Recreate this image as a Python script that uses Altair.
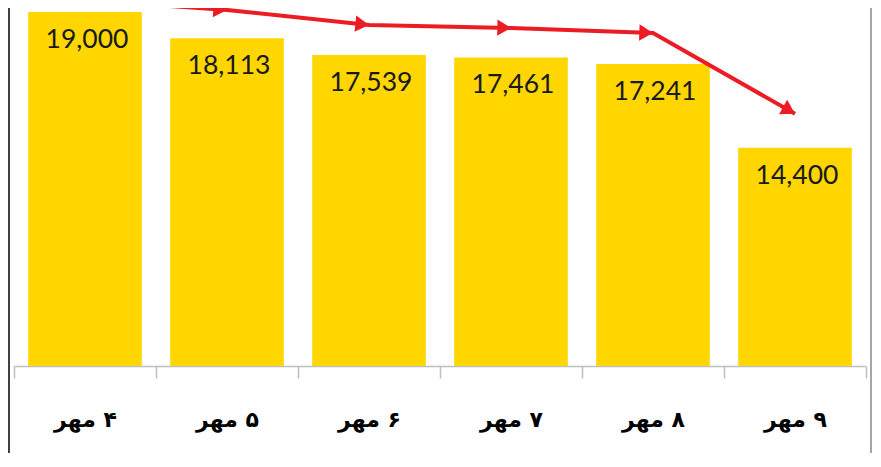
import math
import altair as alt
import pandas as pd

# ---- data ----
days = ["\u200f۴ مهر", "\u200f۵ مهر", "\u200f۶ مهر", "\u200f۷ مهر", "\u200f۸ مهر", "\u200f۹ مهر"]
values = [19000, 18113, 17539, 17461, 17241, 14400]
labels = ["19,000", "18,113", "17,539", "17,461", "17,241", "14,400"]
trend = [19400, 19070, 18560, 18460, 18290, 15550]

# ---- layout ----
PLOT_W, PLOT_H = 852, 358
Y_MIN, Y_MAX = 7000, 19136
k = PLOT_H / (Y_MAX - Y_MIN)
step = PLOT_W / len(days)

angles = [0.0]
for i in range(1, len(trend)):
    dy = (trend[i - 1] - trend[i]) * k
    angles.append(math.degrees(math.atan2(dy, step)) % 360)

df = pd.DataFrame({"day": days, "value": values, "label": labels,
                   "trend": trend, "angle": angles})
df_arrows = df.iloc[1:]

BAR = "#FFD600"
RED = "#EC1C24"

x_enc = alt.X("day:N", sort=None,
              scale=alt.Scale(paddingInner=0, paddingOuter=0),
              axis=alt.Axis(title=None, labelAngle=0, labelFont="DejaVu Sans",
                            labelFontWeight="bold", labelFontSize=22,
                            labelColor="#000000", labelPadding=31,
                            tickBand="extent", tickSize=12, tickColor="#BFBFBF",
                            domainColor="#BFBFBF", domainWidth=1.5, tickWidth=1.5))
y_scale = alt.Scale(domain=[Y_MIN, Y_MAX], zero=False, nice=False)

base = alt.Chart(df)

bars = base.mark_bar(color=BAR, width=alt.RelativeBandSize(0.8)).encode(
    x=x_enc,
    y=alt.Y("value:Q", scale=y_scale, axis=None),
    y2=alt.datum(Y_MIN),
)

texts = base.mark_text(font="Lato", fontSize=26.5, color="#1A1A1A",
                       baseline="middle", dy=28, dx=2).encode(
    x=alt.X("day:N", sort=None),
    y=alt.Y("value:Q"),
    text="label:N",
)

line = base.mark_line(color=RED, strokeWidth=4).encode(
    x=alt.X("day:N", sort=None),
    y=alt.Y("trend:Q"),
)

arrows = alt.Chart(df_arrows).mark_point(
    shape="M0,0L-1,-0.6L-1,0.6Z", filled=True, color=RED, opacity=1,
    size=750).encode(
    x=alt.X("day:N", sort=None),
    y=alt.Y("trend:Q"),
    angle=alt.Angle("angle:Q", scale=None),
)

left_border = alt.Chart(df).mark_rule(color="#404040", strokeWidth=2).encode(
    x=alt.value(-5), y=alt.value(-10), y2=alt.value(450))
right_border = alt.Chart(df).mark_rule(color="#A6A6A6", strokeWidth=2).encode(
    x=alt.value(857), y=alt.value(-10), y2=alt.value(450))

chart = alt.layer(bars, texts, line, arrows, left_border, right_border).properties(
    width=PLOT_W, height=PLOT_H,
    autosize=alt.AutoSizeParams(type="none"),
    padding={"left": 6, "top": 0, "right": 7, "bottom": 87},
).configure(background="#FFFFFF").configure_view(stroke=None)

chart.save("out.html", embed_options={"renderer": "svg", "actions": False})
